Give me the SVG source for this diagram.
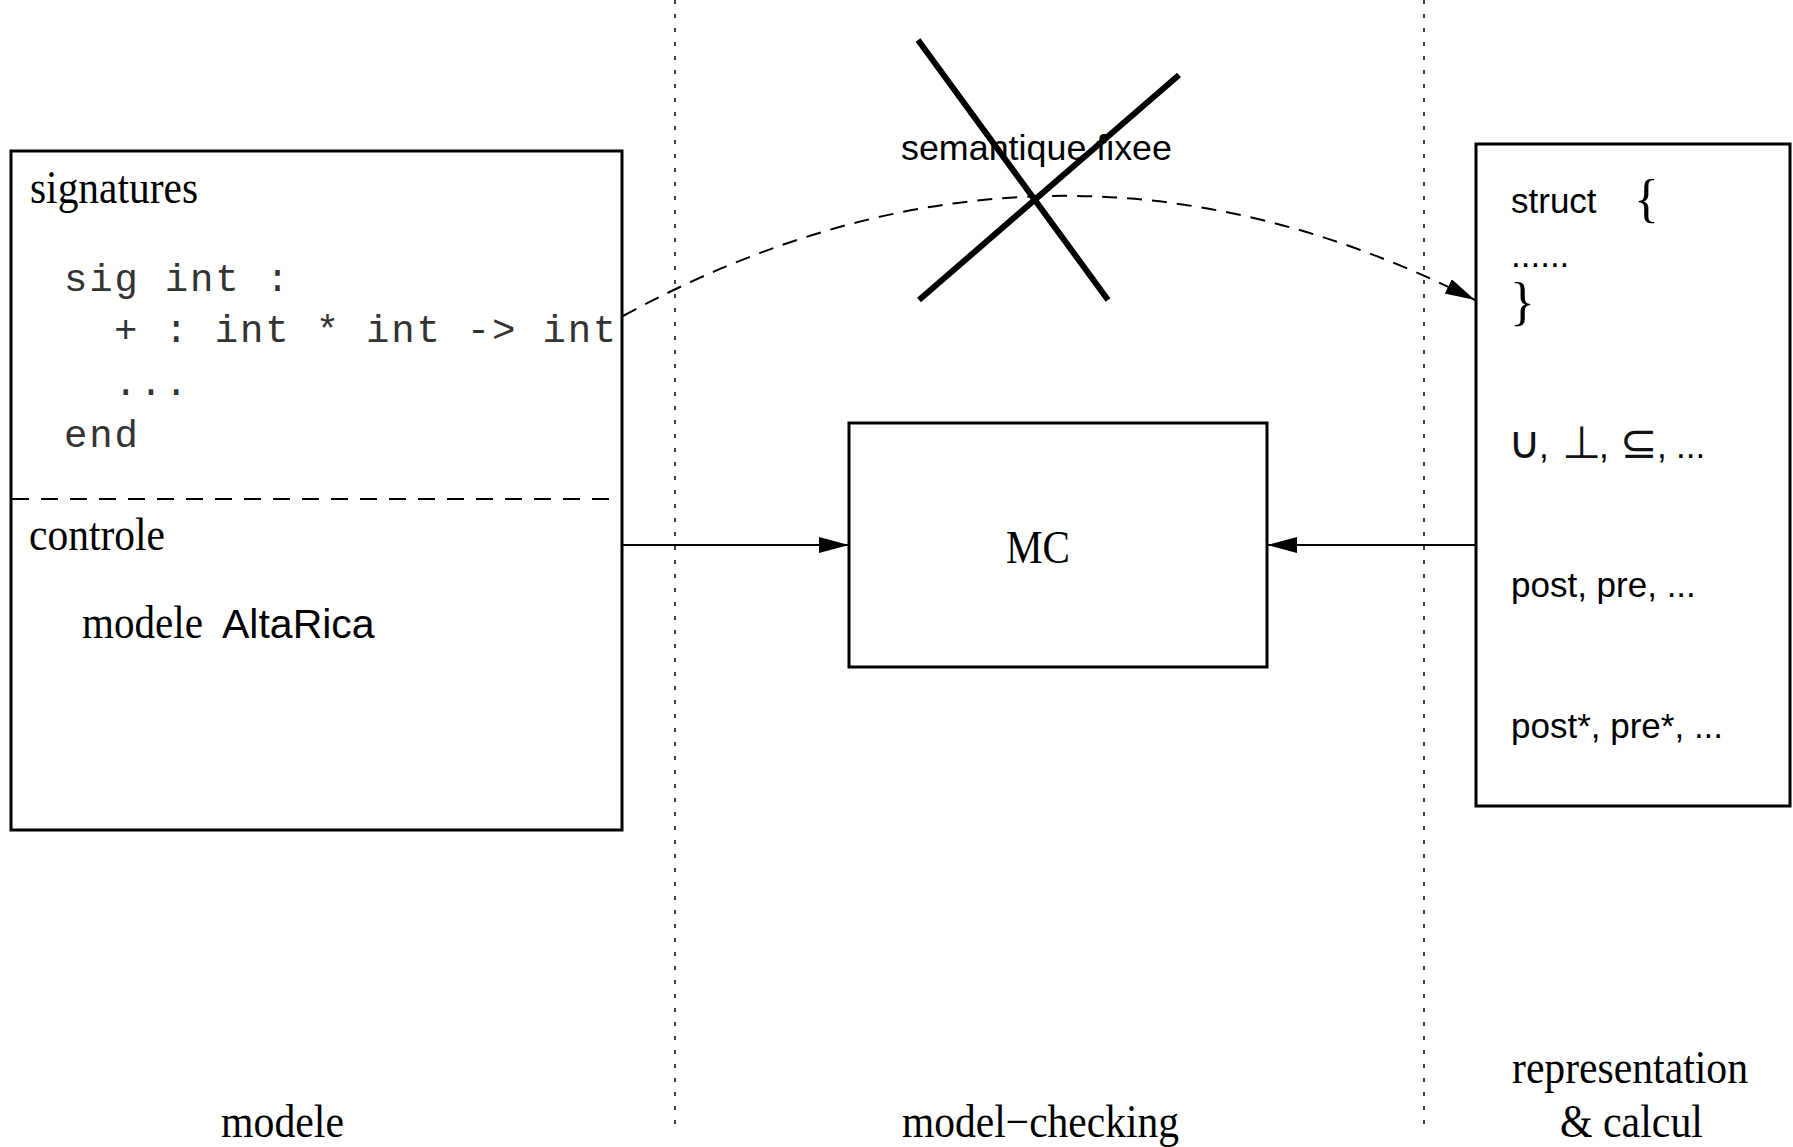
<svg xmlns="http://www.w3.org/2000/svg" width="1793" height="1147" viewBox="0 0 1793 1147">
  <style>
    .box { fill: none; stroke: #000; stroke-width: 3; }
    .serif { font-family: "Liberation Serif", "Times New Roman", serif; font-size: 46px; fill: #000; }
    .sans { font-family: "Liberation Sans", Arial, sans-serif; font-size: 35px; fill: #000; }
    .mono { font-family: "Liberation Mono", "Courier New", monospace; font-size: 39px; letter-spacing: 1.8px; fill: #333; }
    .sym { font-family: "DejaVu Sans", sans-serif; font-size: 45px; fill: #111; }
    .brace { font-family: "Liberation Serif", serif; font-size: 52px; fill: #000; }
    .divider { stroke: #000; stroke-width: 1.5; stroke-dasharray: 4 10; fill: none; }
    .link { stroke: #000; stroke-width: 2; fill: none; }
    .cross { stroke: #000; stroke-width: 6; }
  </style>
  <defs>
    <marker id="head" markerUnits="userSpaceOnUse" markerWidth="32" markerHeight="18" refX="30" refY="8" orient="auto">
      <path d="M0,0 L30,8 L0,16 Z" fill="#000"/>
    </marker>
  </defs>

  <rect width="1793" height="1147" fill="#fff"/>

  <!-- column dividers -->
  <g id="dividers">
    <line class="divider" x1="675" y1="0" x2="675" y2="1128"/>
    <line class="divider" x1="1424" y1="0" x2="1424" y2="1128"/>
  </g>

  <!-- left column: signatures and control model -->
  <g id="modele-box">
    <rect class="box" x="11" y="151" width="611" height="679"/>
    <line x1="12" y1="499" x2="614" y2="499" stroke="#000" stroke-width="2" stroke-dasharray="17 12"/>
    <text class="serif" x="30" y="203" textLength="168" lengthAdjust="spacingAndGlyphs">signatures</text>
    <text class="mono" x="64" y="291">sig int :</text>
    <text class="mono" x="114" y="342">+ : int * int -&gt; int</text>
    <text class="mono" x="114" y="395">...</text>
    <text class="mono" x="64" y="447">end</text>
    <text class="serif" x="29" y="550" textLength="136" lengthAdjust="spacingAndGlyphs">controle</text>
    <text class="serif" x="82" y="638" textLength="121" lengthAdjust="spacingAndGlyphs">modele</text>
    <text class="sans" x="222" y="638" style="font-size:41px">AltaRica</text>
  </g>

  <!-- centre: model checker -->
  <g id="mc-box">
    <rect class="box" x="849" y="423" width="418" height="244"/>
    <text class="serif" x="1006" y="563" textLength="64" lengthAdjust="spacingAndGlyphs">MC</text>
  </g>

  <!-- crossed-out fixed semantics -->
  <g id="semantique">
    <text class="sans" x="901" y="160" textLength="271" lengthAdjust="spacingAndGlyphs">semantique fixee</text>
    <line class="cross" x1="918" y1="40" x2="1108" y2="300"/>
    <line class="cross" x1="1179" y1="75" x2="919" y2="300"/>
  </g>

  <!-- right column: representation and operations -->
  <g id="representation-box">
    <rect class="box" x="1476" y="144" width="314" height="662"/>
    <text class="sans" x="1511" y="213">struct</text>
    <text class="brace" x="1634" y="216">{</text>
    <text class="sans" x="1511" y="267">......</text>
    <text class="brace" x="1510" y="319">}</text>
    <text class="sym" x="1508" y="458">∪</text>
    <text class="sans" x="1539" y="458">,</text>
    <text class="sym" x="1562" y="458">⊥</text>
    <text class="sans" x="1599" y="458">,</text>
    <text class="sym" x="1620" y="458">⊆</text>
    <text class="sans" x="1657" y="458">,</text>
    <text class="sans" x="1676" y="458">...</text>
    <text class="sans" x="1511" y="597">post, pre, ...</text>
    <text class="sans" x="1511" y="738">post*, pre*, ...</text>
  </g>

  <!-- connectors -->
  <g id="connectors">
    <path class="link" d="M623,316 Q1049,84 1475,300" stroke-dasharray="15 10" marker-end="url(#head)"/>
    <line class="link" x1="622" y1="545" x2="849" y2="545" marker-end="url(#head)"/>
    <line class="link" x1="1475" y1="545" x2="1267" y2="545" marker-end="url(#head)"/>
  </g>

  <!-- column captions -->
  <g id="captions">
    <text class="serif" x="221" y="1137" textLength="123" lengthAdjust="spacingAndGlyphs">modele</text>
    <text class="serif" x="902" y="1137" textLength="277" lengthAdjust="spacingAndGlyphs">model−checking</text>
    <text class="serif" x="1512" y="1083" textLength="236" lengthAdjust="spacingAndGlyphs">representation</text>
    <text class="serif" x="1560" y="1137" textLength="143" lengthAdjust="spacingAndGlyphs">&amp; calcul</text>
  </g>
</svg>
